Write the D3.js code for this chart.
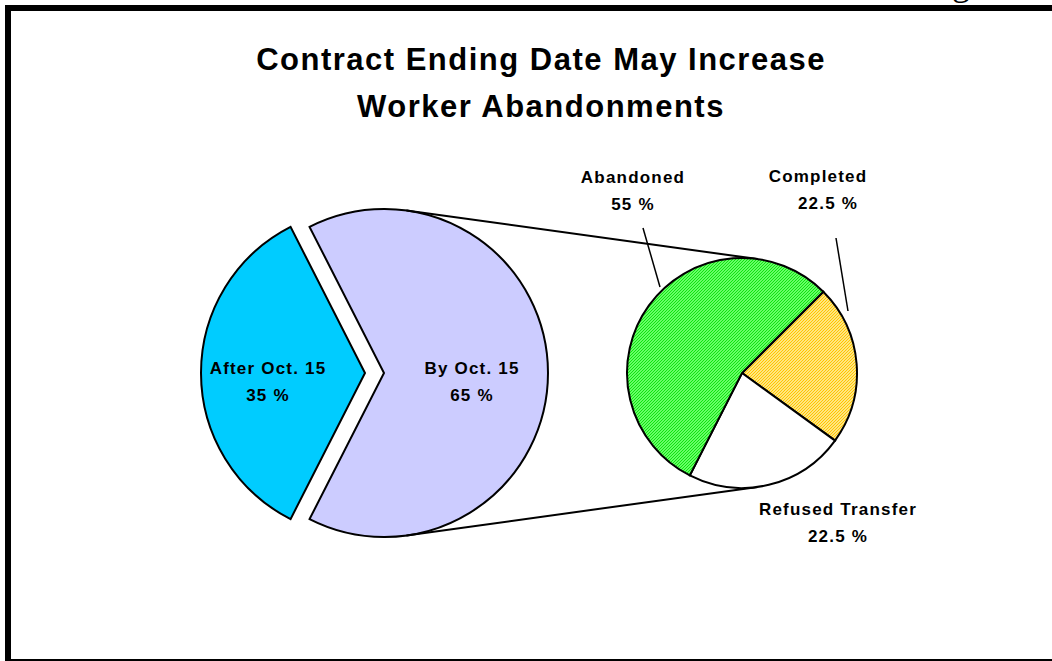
<!DOCTYPE html>
<html><head><meta charset="utf-8">
<script src="https://cdn.jsdelivr.net/npm/d3@7"></script>
<style>html,body{margin:0;padding:0;background:#fff;overflow:hidden}</style>
</head><body>
<svg id="c" width="1052" height="661"></svg>
<script>
// ---- data ----
const titleLines = ["Contract Ending Date May Increase", "Worker Abandonments"];
const mainCategories = ["By Oct. 15", "After Oct. 15"];
const mainValues = [65, 35];
const mainColors = ["#CCCCFF", "#00CCFF"];
const subCategories = ["Completed", "Refused Transfer", "Abandoned"];
const subValues = [22.5, 22.5, 55];
const subFills = ["url(#patYellow)", "#FFFFFF", "url(#patGreen)"];

const svg = d3.select("#c");
const FONT = "'Liberation Sans', Arial, sans-serif";

// patterns
const defs = svg.append("defs");
function hatch(id, base, line) {
  const p = defs.append("pattern").attr("id", id).attr("patternUnits", "userSpaceOnUse")
    .attr("width", 3).attr("height", 3);
  p.append("rect").attr("width", 3).attr("height", 3).attr("fill", base);
  p.append("path").attr("d", "M-1,1 L1,-1 M0,3 L3,0 M2,4 L4,2")
    .attr("stroke", line).attr("stroke-width", 1);
}
hatch("patGreen", "#66FF66", "#11E011");
hatch("patYellow", "#FFE680", "#FFC400");

// frame
svg.append("rect").attr("x", 8).attr("y", 8).attr("width", 1070).attr("height", 654)
  .attr("fill", "none").attr("stroke", "#000").attr("stroke-width", 6);

// cut-off header fragment at top right
svg.append("text").attr("x", 952).attr("y", -5)
  .style("font-family", "'Liberation Serif', 'Times New Roman', serif").style("font-size", "36px")
  .text("g");

// title
svg.append("g").selectAll("text").data(titleLines).join("text")
  .attr("x", 541).attr("y", (d, i) => 70 + i * 47)
  .attr("text-anchor", "middle")
  .style("font-family", FONT).style("font-weight", "bold").style("font-size", "31px")
  .style("letter-spacing", "1.5px")
  .text(d => d);

// ---- main pie ----
const deg = Math.PI / 180;
const R1 = 164, c1 = [384, 373];
const R2 = 115, c2 = [742, 373];
const explode = 19;

const pie1 = d3.pie().sort(null).value(d => d)
  .startAngle(90 * deg - (mainValues[0] / 100) * Math.PI)
  .endAngle(90 * deg - (mainValues[0] / 100) * Math.PI + 2 * Math.PI);
const arcs1 = pie1(mainValues);
const arc1 = d3.arc().innerRadius(0).outerRadius(R1);

const g1 = svg.append("g");
g1.selectAll("path").data(arcs1).join("path")
  .attr("transform", (d, i) => {
    const m = (d.startAngle + d.endAngle) / 2;
    const off = i === 1 ? explode : 0;
    return `translate(${c1[0] + off * Math.sin(m)},${c1[1] - off * Math.cos(m)})`;
  })
  .attr("d", arc1)
  .attr("fill", (d, i) => mainColors[i])
  .attr("stroke", "#000").attr("stroke-width", 2).attr("stroke-linejoin", "miter");

const labelStyle = t => t.attr("text-anchor", "middle")
  .style("font-family", FONT).style("font-weight", "bold").style("font-size", "17px")
  .style("letter-spacing", "1.2px");

// main labels
const mainLabelShift = [87, 98];
arcs1.forEach((d, i) => {
  const m = (d.startAngle + d.endAngle) / 2;
  const off = (i === 1 ? explode : 0) + mainLabelShift[i];
  const x = c1[0] + off * Math.sin(m) + 1, y = c1[1] - off * Math.cos(m);
  const t = svg.append("text").call(labelStyle);
  t.append("tspan").attr("x", x).attr("y", y + 1).text(mainCategories[i]);
  t.append("tspan").attr("x", x).attr("y", y + 28).text(d3.format(".0f")(mainValues[i]) + " %");
});

// ---- connector tangent lines ----
const dist = c2[0] - c1[0];
const phi = Math.asin((R1 - R2) / dist);
[-1, 1].forEach(s => {
  svg.append("line")
    .attr("x1", c1[0] + R1 * Math.sin(phi)).attr("y1", c1[1] + s * R1 * Math.cos(phi))
    .attr("x2", c2[0] + R2 * Math.sin(phi)).attr("y2", c2[1] + s * R2 * Math.cos(phi))
    .attr("stroke", "#000").attr("stroke-width", 2);
});

// ---- secondary pie ----
const pie2 = d3.pie().sort(null).value(d => d)
  .startAngle(45 * deg).endAngle(45 * deg + 2 * Math.PI);
const arcs2 = pie2(subValues);
const arc2 = d3.arc().innerRadius(0).outerRadius(R2);
svg.append("g").attr("transform", `translate(${c2[0]},${c2[1]})`)
  .selectAll("path").data(arcs2).join("path")
  .attr("d", arc2).attr("fill", (d, i) => subFills[i])
  .attr("stroke", "#000").attr("stroke-width", 2);

// secondary labels (offsets relative to secondary pie centre)
const subLabelPos = [[76, -191], [96, 142], [-109, -190]];
const subLeaders = [[[94, -135], [106, -62]], null, [[-99, -145], [-82, -86]]];
arcs2.forEach((d, i) => {
  const [dx, dy] = subLabelPos[i];
  const t = svg.append("text").call(labelStyle);
  t.append("tspan").attr("x", c2[0] + dx).attr("y", c2[1] + dy).text(subCategories[i]);
  t.append("tspan").attr("x", c2[0] + dx + (i === 0 ? 10 : 0)).attr("y", c2[1] + dy + 27)
    .text(subValues[i] + " %");
  if (subLeaders[i]) {
    const [a, b] = subLeaders[i];
    svg.append("line").attr("x1", c2[0] + a[0]).attr("y1", c2[1] + a[1])
      .attr("x2", c2[0] + b[0]).attr("y2", c2[1] + b[1])
      .attr("stroke", "#000").attr("stroke-width", 1.5);
  }
});
</script>
</body></html>
